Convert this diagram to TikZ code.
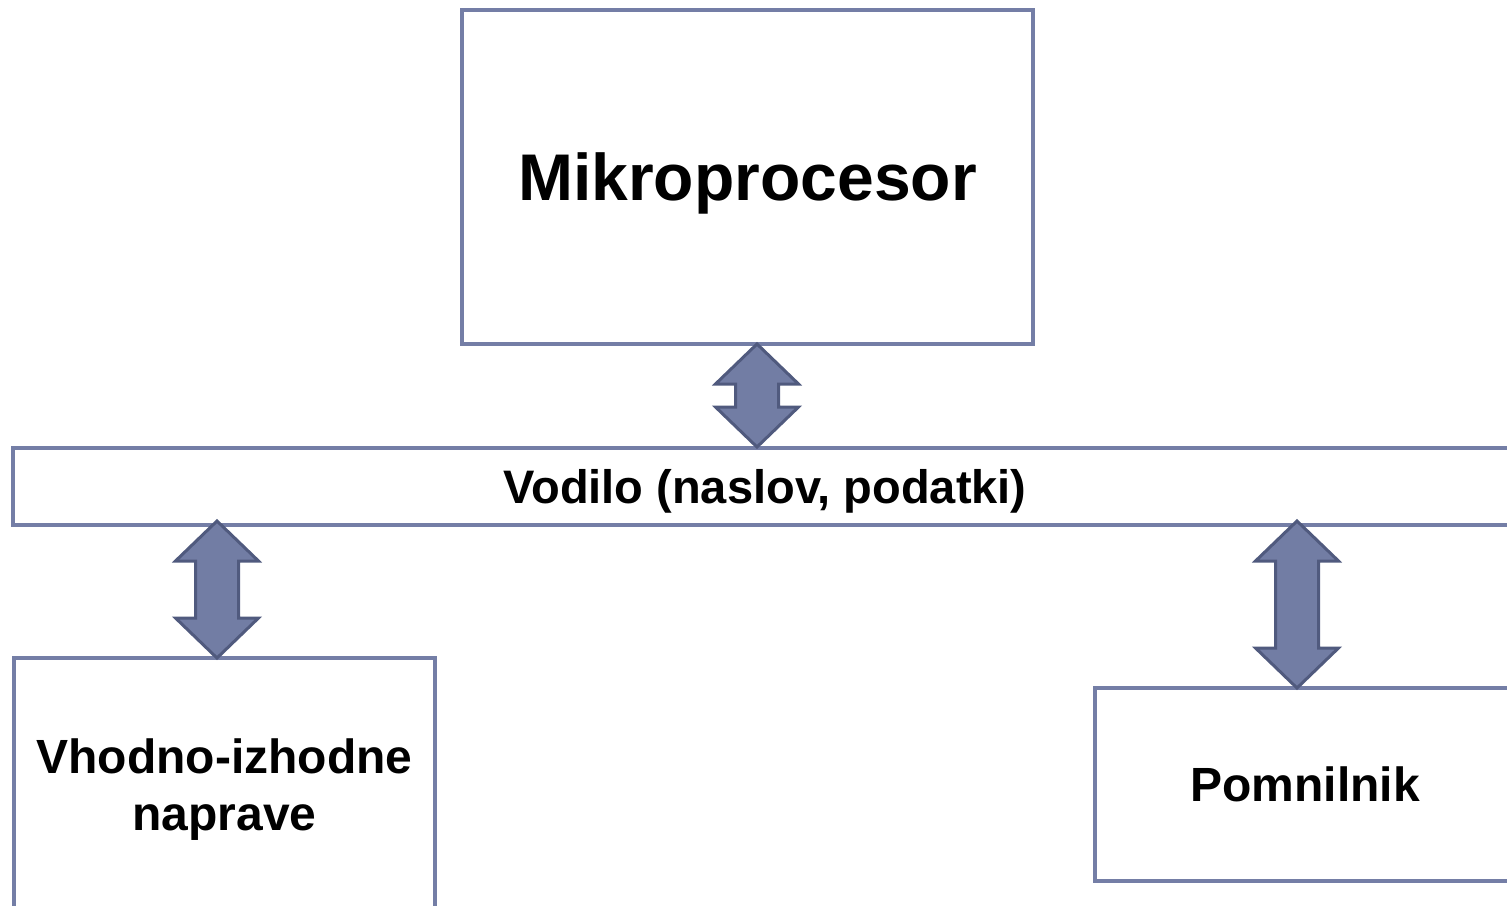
\documentclass[tikz,border=0pt]{standalone}
\usepackage{fontspec}
\setmainfont{Liberation Sans}
\usetikzlibrary{calc}
\definecolor{boxline}{RGB}{116,126,166}
\definecolor{arrfill}{RGB}{114,125,164}
\definecolor{arrline}{RGB}{80,90,126}
\tikzset{
  box/.style={draw=boxline, line width=4pt, fill=white, rectangle, inner sep=0pt, align=center, text depth=0pt, font=\bfseries\fontsize{48}{57}\selectfont},
  blockarrow/.style={fill=arrfill, draw=arrline, line width=3pt, line join=miter}
}
\newcommand\dblarrow[2]{%
  \path[blockarrow] let \p1=(#1), \p2=(#2) in
    (\x1,\y1) -- (\x1+41.5pt,\y1-40pt) -- (\x1+21.5pt,\y1-40pt) -- (\x1+21.5pt,\y2+40pt)
    -- (\x1+41.5pt,\y2+40pt) -- (\x1,\y2) -- (\x1-41.5pt,\y2+40pt) -- (\x1-21.5pt,\y2+40pt)
    -- (\x1-21.5pt,\y1-40pt) -- (\x1-41.5pt,\y1-40pt) -- cycle;}
\begin{document}
\begin{tikzpicture}[x=1pt,y=-1pt]
\useasboundingbox (0,0) rectangle (1507,905);
\clip (0,0) rectangle (1507,905);
\node[box, minimum width=571pt, minimum height=334pt, font=\bfseries\fontsize{66}{70}\selectfont] (cpu) at (747.5,177) {Mikroprocesor};
\node[box, minimum width=1504pt, minimum height=77pt, font=\bfseries\fontsize{47}{56}\selectfont] (bus) at (765,486.5) {Vodilo (naslov, podatki)};
\node[box, minimum width=421pt, minimum height=254pt] (io) at (224.5,785) {Vhodno-izhodne\\naprave};
\node[box, minimum width=420pt, minimum height=193pt] (mem) at (1305,784.5) {Pomnilnik};
\coordinate (a1t) at (757,344);
\coordinate (a1b) at (757,447);
\coordinate (a2t) at (217,521);
\coordinate (a2b) at (217,658);
\coordinate (a3t) at (1297,521);
\coordinate (a3b) at (1297,688);
\dblarrow{a1t}{a1b}
\dblarrow{a2t}{a2b}
\dblarrow{a3t}{a3b}
\end{tikzpicture}
\end{document}
